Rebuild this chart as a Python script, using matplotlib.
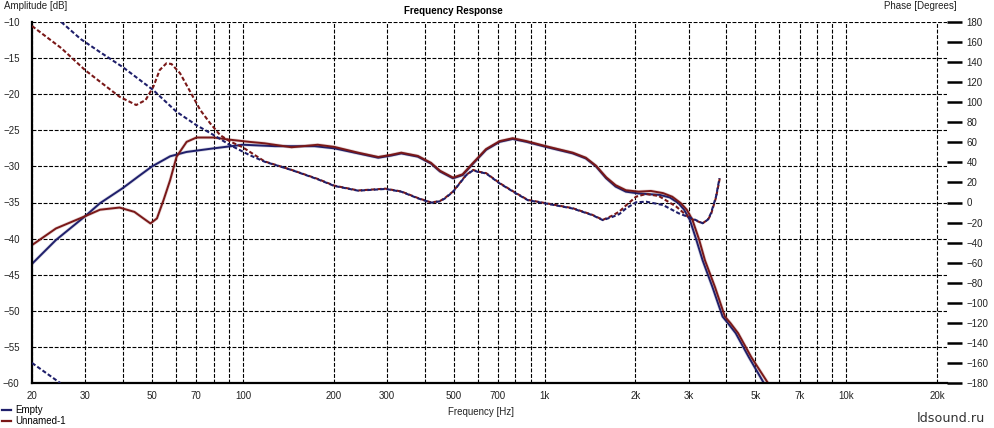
import numpy as np
import matplotlib
matplotlib.use('Agg')
import matplotlib.pyplot as plt
from matplotlib.lines import Line2D
from matplotlib.ticker import FixedLocator, FixedFormatter, NullFormatter

plt.rcParams['font.family'] = ['Liberation Sans', 'DejaVu Sans']

# --- data ---
# "Empty" amplitude (dB)
empty_amp_f = [20, 24, 30, 33.6, 40, 45, 50, 57.4, 65, 80, 100, 128, 173, 201, 241, 281,
               310, 335, 380, 420, 450, 497, 535, 580, 640, 710, 784, 871, 1010, 1240,
               1370, 1480, 1600, 1720, 1860, 2050, 2410, 2600, 2780, 2900, 3030, 3180,
               3340, 3600, 3890, 4050, 4300, 4750, 5330]
empty_amp = [-43.5, -40.2, -36.9, -35.1, -33.0, -31.4, -30.0, -28.6, -28.0, -27.5, -27.0,
             -27.2, -27.2, -27.5, -28.2, -28.8, -28.5, -28.2, -28.65, -29.6, -30.7,
             -31.65, -31.2, -29.6, -27.7, -26.6, -26.2, -26.6, -27.3, -28.2, -28.9,
             -30.0, -31.65, -32.8, -33.5, -33.75, -33.95, -34.3, -35.1, -36.0, -37.4,
             -40.1, -43.0, -46.7, -50.8, -51.7, -53.1, -56.4, -60.0]

# "Unnamed-1" amplitude (dB)
unnamed_amp_f = [20, 24, 30, 33.6, 39, 43.7, 46.8, 49.4, 51.9, 54.6, 57.4, 60.3, 65.1,
                 70.2, 80, 90.5, 105, 118, 145, 177, 201, 241, 281, 310, 335, 380, 420,
                 450, 497, 535, 580, 640, 710, 784, 871, 1010, 1240, 1370, 1480, 1600,
                 1720, 1860, 2050, 2250, 2470, 2650, 2830, 2960, 3090, 3250, 3400, 3670,
                 3960, 4130, 4380, 4840, 5500]
unnamed_amp = [-40.9, -38.6, -36.9, -36.0, -35.7, -36.3, -37.2, -37.9, -37.2, -34.65,
               -31.9, -28.65, -26.6, -26.0, -26.0, -26.3, -26.6, -26.8, -27.35, -27.0,
               -27.3, -28.1, -28.7, -28.4, -28.1, -28.55, -29.5, -30.6, -31.55, -31.1,
               -29.5, -27.6, -26.5, -26.1, -26.5, -27.2, -28.1, -28.8, -29.9, -31.5,
               -32.6, -33.3, -33.5, -33.4, -33.7, -34.2, -35.1, -36.0, -37.4, -40.1,
               -43.0, -46.7, -50.8, -51.7, -53.1, -56.4, -60.0]

# "Empty" phase (degrees), wraps from -180 to +180 near 25 Hz
empty_ph_f = [20, 24.8, 24.9, 25, 29, 33.6, 40, 50.5, 60.2, 70, 80, 90.5, 105, 118, 145,
              177, 201, 241, 297, 335, 380, 421, 450, 467, 497, 550, 580, 600, 640, 710,
              805, 880, 1010, 1240, 1440, 1560, 1680, 1770, 1860, 2010, 2170, 2470, 2780,
              3130, 3340, 3480, 3560, 3700, 3800]
empty_ph = [-160, -180, np.nan, 180, 163, 150, 135, 112, 90.6, 77.3, 67.3, 57.4, 47.4,
            40.7, 32.4, 23.2, 16.5, 11.8, 13.5, 10.8, 4.2, -0.2, 1.2, 4.0, 10.6, 27.3,
            32.2, 30.6, 29.0, 19.0, 9.0, 2.3, -1.0, -6.0, -12.6, -17.6, -14.3, -11.5,
            -6.0, 0.2, 0.8, -2.5, -10.7, -16.7, -20.7, -17.0, -10.7, 5.8, 24.2]

# "Unnamed-1" phase (degrees)
unnamed_ph_f = [20, 25, 30, 33.6, 39, 44.3, 47.6, 50.5, 53, 55.8, 58, 61.9, 66.9, 72.2,
                77.9, 84, 90.5, 100, 118, 145, 177, 201, 241, 297, 335, 380, 421, 450,
                467, 497, 550, 580, 600, 640, 710, 805, 880, 1010, 1240, 1440, 1560,
                1680, 1770, 1860, 2010, 2170, 2390, 2730, 3030, 3340, 3480, 3560, 3700,
                3810]
unnamed_ph = [176, 154, 132, 120.5, 105.5, 97.2, 102.2, 115.5, 132.1, 138.8, 138.1, 128.9,
              110.5, 92.3, 79, 67.3, 61, 55, 41, 32.5, 23.5, 16.8, 12, 13.8, 11, 4.5,
              0.0, 1.5, 4.4, 10.9, 27.6, 32.5, 30.9, 29.3, 19.3, 9.3, 2.6, -0.7, -5.7,
              -12.3, -17.3, -13.0, -9.0, -3.0, 5.8, 8.5, 6.5, -4.0, -15.7, -20.7, -17.0,
              -12.0, 5.0, 24.5]

major_f = [20, 30, 50, 70, 100, 200, 300, 500, 700, 1000, 2000, 3000, 5000, 7000, 10000, 20000]
major_lbl = ['20', '30', '50', '70', '100', '200', '300', '500', '700', '1k', '2k', '3k',
             '5k', '7k', '10k', '20k']
minor_f = [40, 60, 80, 90, 400, 600, 800, 900, 4000, 6000, 8000, 9000]
amp_ticks = [-10, -15, -20, -25, -30, -35, -40, -45, -50, -55, -60]
phase_ticks = list(range(-180, 181, 20))

navy = '#1f1f6b'
dred = '#7a1818'

# --- layout (pixel based) ---
W, H = 994, 428
px_l, px_r, px_t, px_b = 32, 947, 22, 383
px_per_dec = 301.7

fig = plt.figure(figsize=(W / 100, H / 100), dpi=100)
fig.patch.set_facecolor('white')
ax = fig.add_axes([px_l / W, 1 - px_b / H, (px_r - px_l) / W, (px_b - px_t) / H])
ax2 = ax.twinx()

ax.set_xscale('log')
ax.set_xlim(20, 20 * 10 ** ((px_r - px_l) / px_per_dec))
ax.set_ylim(-60, -10)
ax2.set_ylim(-180, 180)

# grid
ax.xaxis.set_major_locator(FixedLocator(major_f))
ax.xaxis.set_major_formatter(FixedFormatter(major_lbl))
ax.xaxis.set_minor_locator(FixedLocator(minor_f))
ax.xaxis.set_minor_formatter(NullFormatter())
ax.set_yticks(amp_ticks)
ax.grid(True, which='both', color='black', lw=0.8, linestyle=(0, (3.5, 1.5)))
ax.set_axisbelow(True)

ax.tick_params(axis='x', which='both', length=0, pad=6, labelsize=7, labelcolor='#222222')
ax.tick_params(axis='y', length=0, pad=9, labelsize=7, labelcolor='#222222')
ax2.set_yticks(phase_ticks)
ax2.tick_params(axis='y', length=11, width=1.8, pad=3, labelsize=7, direction='out',
                labelcolor='#222222')

for a in (ax, ax2):
    a.spines['top'].set_visible(False)
    a.spines['right'].set_visible(False)
ax2.spines['left'].set_visible(False)
ax2.spines['bottom'].set_visible(False)
ax.spines['left'].set_linewidth(1.6)
ax.spines['bottom'].set_linewidth(1.6)

# curves: amplitude solid, phase dashed
for f, v, c in [(empty_amp_f, empty_amp, navy), (unnamed_amp_f, unnamed_amp, dred)]:
    ax.plot(f, v, color=c, lw=2.4, alpha=0.18, solid_capstyle='round')
    ax.plot(f, v, color=c, lw=1.4, solid_joinstyle='round')
for f, v, c in [(unnamed_ph_f, unnamed_ph, dred), (empty_ph_f, empty_ph, navy)]:
    ax2.plot(f, v, color=c, lw=1.5, linestyle=(0, (2.0, 1.1)))

# texts
fig.text(4 / W, 1 - 6 / H, 'Amplitude [dB]', fontsize=7, va='center', ha='left', color='#222222')
fig.text(957 / W, 1 - 6 / H, 'Phase [Degrees]', fontsize=7, va='center', ha='right', color='#222222')
fig.text(453 / W, 1 - 11 / H, 'Frequency Response', fontsize=7, fontweight='bold',
         va='center', ha='center')
fig.text(481 / W, 1 - 412 / H, 'Frequency [Hz]', fontsize=7, va='center', ha='center',
         color='#222222')
fig.text(985 / W, 1 - 418 / H, 'ldsound.ru', fontsize=9.2, va='center', ha='right',
         family='DejaVu Sans', color='#333333')

handles = [Line2D([], [], color=navy, lw=1.6), Line2D([], [], color=dred, lw=1.6)]
fig.legend(handles, ['Empty', 'Unnamed-1'], loc='upper left',
           bbox_to_anchor=(2 / W, 1 - 405 / H), frameon=False, fontsize=7,
           handlelength=0.9, handletextpad=0.5, labelspacing=0.15, borderaxespad=0,
           borderpad=0)

fig.savefig('out.png', dpi=100)
